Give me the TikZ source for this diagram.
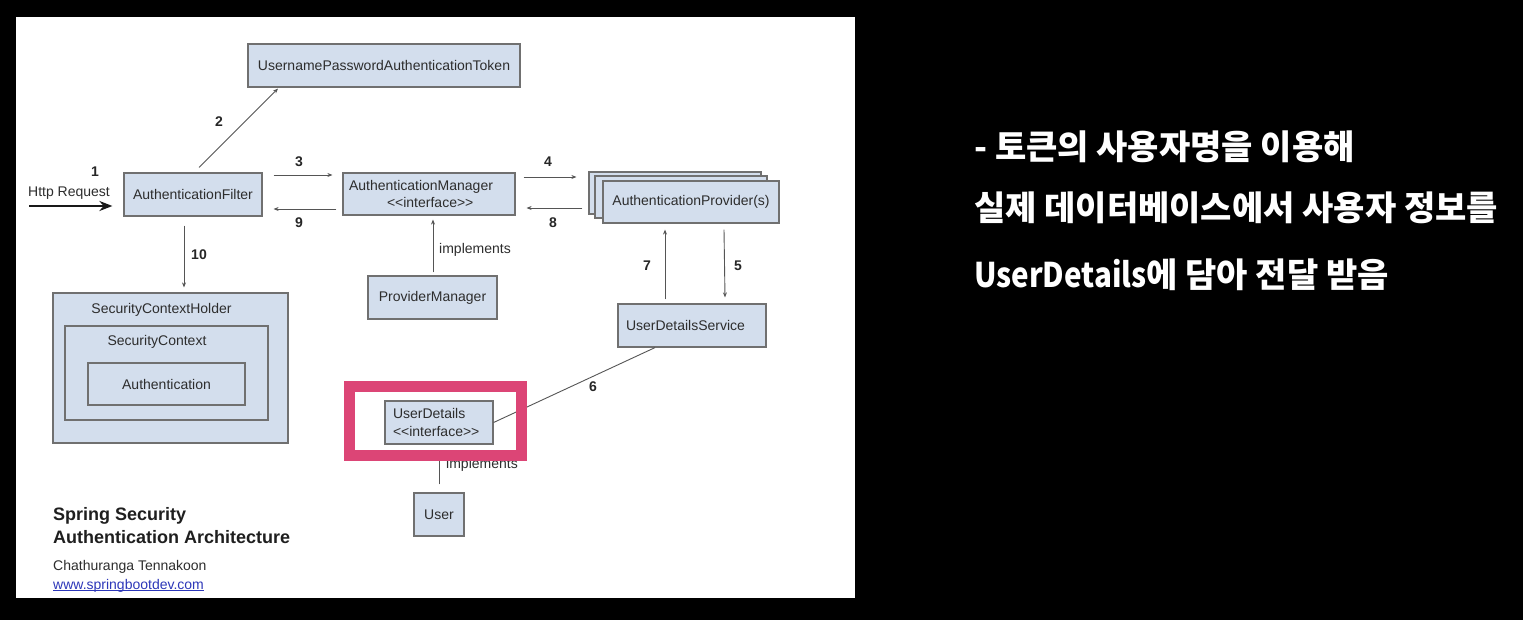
\documentclass[tikz,border=0pt]{standalone}
\usepackage{fontspec}
\usepackage{graphicx}
\setmainfont{Liberation Sans}
\newfontfamily\kr{Noto Sans CJK KR}
\usetikzlibrary{arrows.meta,calc}
\definecolor{boxfill}{RGB}{211,222,237}
\definecolor{boxdraw}{RGB}{112,112,112}
\definecolor{txtcol}{RGB}{45,45,45}
\definecolor{linecol}{RGB}{85,85,85}
\definecolor{pinkframe}{RGB}{220,69,118}
\definecolor{urlblue}{RGB}{45,55,185}
\newcommand{\iface}{<\kern0pt<interface>\kern0pt>}
\tikzset{
  box/.style={draw=boxdraw, line width=1.2pt, fill=boxfill, text=txtcol,
    font=\fontsize{14}{17}\selectfont, inner sep=0pt, minimum height=43pt},
  lbl/.style={text=txtcol, font=\fontsize{14}{17}\selectfont, inner sep=0pt},
  num/.style={text=black!85, font=\bfseries\fontsize{14}{17}\selectfont, inner sep=0pt},
  conn/.style={draw=linecol, line width=0.9pt},
  arr/.style={conn, -{Stealth[length=5pt,width=4pt]}},
  bigarr/.style={draw=black!90, line width=2.6pt, -{Stealth[length=13pt,width=10pt]}},
  krtxt/.style={text=white, font=\kr\bfseries\fontsize{34}{40}\selectfont, inner sep=0pt, anchor=west}
}
\begin{document}
\begin{tikzpicture}[x=1pt,y=-1pt]
\useasboundingbox (0,0) rectangle (1523,620);
\fill[black] (0,0) rectangle (1523,620);
\fill[white] (16,17) rectangle (855,598);

% boxes
\node[box, minimum width=272pt] (token) at (384,65.5) {UsernamePasswordAuthenticationToken};
\node[box, minimum width=138pt] (filter) at (193,194.5) {AuthenticationFilter};
\node[box, text width=160pt, inner xsep=6pt, minimum height=42pt, align=left] (manager) at (429,194)
  {AuthenticationManager\\\hspace*{38pt}\iface};
\node[box, minimum width=172pt, minimum height=42pt] (prov1) at (675,193) {};
\node[box, minimum width=172pt, minimum height=42pt] (prov2) at (681,197) {};
\node[box, minimum width=176pt, minimum height=42pt] (prov) at (691,202) {AuthenticationProvider(s)};
\node[box, minimum width=129pt] (pm) at (432.5,297.5) {ProviderManager};
\node[box, text width=132pt, inner xsep=8pt, align=left] (uds) at (692,325.5) {UserDetailsService};
\node[box, minimum width=235pt, minimum height=150pt] (sch) at (170.5,368) {};
\node[box, minimum width=203pt, minimum height=94pt] (sc) at (166.5,373) {};
\node[box, minimum width=157pt, minimum height=42pt] (auth) at (166.5,384) {Authentication};
\node[lbl] (schlbl) at (161.5,310) {SecurityContextHolder};
\node[lbl] (sclbl) at (157,342) {SecurityContext};
\node[box, text width=92pt, inner xsep=8pt, align=left, font=\fontsize{14}{17.5}\selectfont] (ud) at (439,422.5)
  {UserDetails\\\iface};
\node[box, minimum width=50pt] (user) at (439,514.5) {User};

% connectors
\coordinate (req) at (29,206);
\draw[bigarr] (req) -- ($(filter.west)+(-11,11.5)$);
\draw[arr] ($(filter.north)+(6,-5)$) -- ($(token.south)+(-106,1)$);
\draw[arr] ($(filter.east)+(11,-19.5)$) -- ($(manager.west)+(-10,-19)$);
\draw[arr] ($(manager.west)+(-6,15)$) -- ($(filter.east)+(11,14.5)$);
\draw[arr] ($(manager.east)+(8,-17)$) -- ($(prov1.west)+(-12,-16)$);
\draw[arr] ($(prov1.west)+(-6,15)$) -- ($(manager.east)+(11,14)$);
\draw[arr] ($(filter.south)+(-9,9)$) -- ($(sch.north)+(13.5,-5)$);
\draw[arr] ($(uds.north)+(-27,-4)$) -- ($(prov.south)+(-26,6)$);
\draw[arr] ($(prov.south)+(33,6)$) -- ($(uds.north)+(33,-6)$);
\draw[arr] ($(pm.north)+(0.5,-3)$) -- ($(manager.south)+(4,4)$);
\draw[conn] ($(uds.south)+(-37,0)$) -- (ud.east);
\draw[conn] ($(user.north)+(0,-8)$) -- ($(ud.south)+(0,6)$);

% labels
\node[lbl] (httplbl) at (69,193) {Http Request};
\node[num] (n1) at (95,172) {1};
\node[num] (n2) at (219,122) {2};
\node[num] (n3) at (299,162) {3};
\node[num] (n9) at (299,223) {9};
\node[num] (n4) at (548,162) {4};
\node[num] (n8) at (553,223) {8};
\node[num] (n7) at (647,266) {7};
\node[num] (n5) at (738,266) {5};
\node[num] (n10) at (199,255) {10};
\node[num] (n6) at (593,387) {6};
\node[lbl] (impl1) at (475,250) {implements};
\node[lbl] (impl2) at (482,465) {implements};

% title block
\node[anchor=west, inner sep=0pt, text=black!88, font=\bfseries\fontsize{18}{21}\selectfont] (t1) at (53,516) {Spring Security};
\node[anchor=west, inner sep=0pt, text=black!88, font=\bfseries\fontsize{18}{21}\selectfont] (t2) at (53,537) {Authentication Architecture};
\node[anchor=west, inner sep=0pt, text=txtcol, font=\fontsize{14}{17}\selectfont] (t3) at (53,567) {Chathuranga Tennakoon};
\node[anchor=base west, inner sep=0pt, text=urlblue, font=\fontsize{14}{17}\selectfont] (t4) at (53,589) {www.springbootdev.com};
\draw[urlblue, line width=0.8pt] ($(t4.base west)+(0,1.8)$) -- ($(t4.base east)+(0,1.8)$);

% highlight frame
\draw[pinkframe, line width=11pt] (349.5,386.5) rectangle (521.5,455.5);

% Korean notes
\node[krtxt] (k1) at (974,147) {- 토큰의 사용자명을 이용해};
\node[krtxt] (k2) at (974,208) {실제 데이터베이스에서 사용자 정보를};
\node[krtxt] (k3) at (974,275) {\scalebox{0.87}[1]{UserDetails}에 담아 전달 받음};
\end{tikzpicture}
\end{document}
